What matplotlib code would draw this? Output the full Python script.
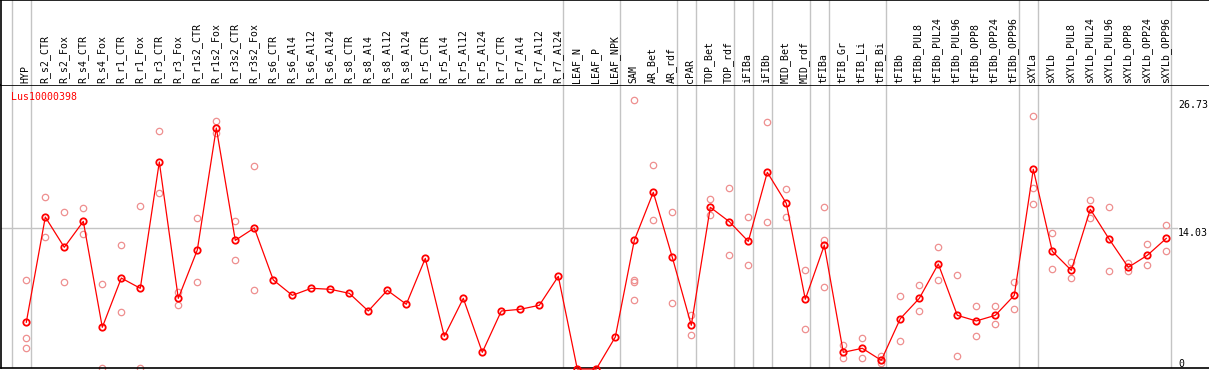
import matplotlib
matplotlib.use("Agg")
import matplotlib.pyplot as plt

categories = ["HYP", "R_s2_CTR", "R_s2_Fox", "R_s4_CTR", "R_s4_Fox", "R_r1_CTR", "R_r1_Fox",
              "R_r3_CTR", "R_r3_Fox", "R_r1s2_CTR", "R_r1s2_Fox", "R_r3s2_CTR", "R_r3s2_Fox",
              "R_s6_CTR", "R_s6_Al4", "R_s6_Al12", "R_s6_Al24", "R_s8_CTR", "R_s8_Al4",
              "R_s8_Al12", "R_s8_Al24", "R_r5_CTR", "R_r5_Al4", "R_r5_Al12", "R_r5_Al24",
              "R_r7_CTR", "R_r7_Al4", "R_r7_Al12", "R_r7_Al24", "LEAF_N", "LEAF_P", "LEAF_NPK",
              "SAM", "AR_Bet", "AR_rdf", "cPAR", "TOP_Bet", "TOP_rdf", "iFIBa", "iFIBb",
              "MID_Bet", "MID_rdf", "tFIBa", "tFIB_Gr", "tFIB_Li", "tFIB_Bi", "tFIBb",
              "tFIBb_PUL8", "tFIBb_PUL24", "tFIBb_PUL96", "tFIBb_OPP8", "tFIBb_OPP24",
              "tFIBb_OPP96", "sXYLa", "sXYLb", "sXYLb_PUL8", "sXYLb_PUL24", "sXYLb_PUL96",
              "sXYLb_OPP8", "sXYLb_OPP24", "sXYLb_OPP96"]

means = [4.65, 15.12, 12.11, 14.69, 4.15, 9.05, 8.03, 20.6, 7.03, 11.84, 23.98, 12.8, 14.03,
         8.86, 7.33, 8.03, 7.93, 7.53, 5.77, 7.83, 6.44, 11.01, 3.25, 7.03, 1.66,
         5.77, 5.94, 6.34, 9.22, 0.0, 0.0, 3.18,
         12.8, 17.58, 11.11, 4.35, 16.09, 14.66, 12.7, 19.57, 16.49, 6.94, 12.31,
         1.66, 2.06, 0.86, 5.01, 7.03, 10.45, 5.34, 4.78, 5.34, 7.33,
         19.87, 11.71, 9.82, 15.89, 12.9, 10.12, 11.31, 13.0]

replicates = [
    [8.82, 3.05, 2.06], [17.08, 13.1], [15.59, 8.63], [15.99, 13.4], [8.43, 0.07],
    [12.31, 5.64], [16.19, 0.07], [23.65, 17.48], [7.63, 6.34], [15.0, 8.63],
    [24.65, 23.45], [14.69, 10.82], [20.17, 7.83],
    [], [], [], [], [], [], [], [], [], [], [], [], [], [], [], [], [], [], [],
    [26.73, 8.82, 8.63, 6.84], [20.27, 14.79], [15.59, 6.54], [5.41, 3.35],
    [16.89, 15.29], [17.98, 11.31], [15.09, 10.32], [24.55, 14.6], [17.88, 15.09],
    [9.82, 3.95], [16.09, 12.8, 8.13], [2.36, 1.06], [3.05, 1.06], [1.26, 0.87, 0.57],
    [7.23, 2.76], [8.33, 5.74], [12.11, 8.82], [9.32, 1.26], [6.24, 3.25], [6.24, 4.45],
    [8.63, 5.94], [25.14, 17.98, 16.39], [13.5, 9.92], [10.62, 9.02], [16.79, 15.0],
    [16.09, 9.72], [10.52, 9.72], [12.41, 10.32], [14.3, 11.71]]

group_ends = [-1, 0, 28, 31, 34, 35, 37, 38, 39, 41, 42, 45, 52, 53, 60]
y_labels = [26.73, 14.03, 0]
gene = "Lus10000398"

W, H = 1209, 370
fig = plt.figure(figsize=(W / 100, H / 100), dpi=100)
mono = "DejaVu Sans Mono"
fs = 7.1

x0, dx = 26.3, 19.0
xlim = ((1 - x0) / dx, (W - x0) / dx)
pxy = 10.05
y_zero = 369
ylim = ((y_zero - 368) / pxy, (y_zero - 85) / pxy)

ax = fig.add_axes([1 / W, (H - 368) / H, (W - 1) / W, (368 - 85) / H])
hx = fig.add_axes([1 / W, (H - 85) / H, (W - 1) / W, 85 / H])

for a in (ax, hx):
    a.set_xlim(*xlim)
    a.set_xticks([])
    a.set_yticks([])
    for s in a.spines.values():
        s.set_color("black")
        s.set_linewidth(1.2)
    a.spines["right"].set_visible(False)
    for g in group_ends:
        a.axvline(g + 0.23, color="#c4c4c4", lw=1.0, zorder=0)

hx.set_ylim(0, 1)
hx.spines["bottom"].set_visible(False)
ax.set_ylim(*ylim)

xs = list(range(len(categories)))
for i, name in enumerate(categories):
    hx.text(i - 0.05, 2 / 85, name, rotation=90, ha="center", va="bottom",
            fontsize=fs, family=mono, color="black")

x_text = (1178 - 1) / (W - 1)
ax.axhline(14.03, xmin=0, xmax=x_text - 0.001, color="#c4c4c4", lw=1.0, zorder=0)

for yl in y_labels:
    txt = "0" if yl == 0 else f"{yl:.2f}"
    ax.text(x_text, yl, txt, transform=ax.get_yaxis_transform(),
            ha="left", va="bottom" if yl == 0 else "top",
            fontsize=fs, family=mono, color="black")

rx, ry = [], []
for i, reps in enumerate(replicates):
    for r in reps:
        rx.append(i)
        ry.append(r)
ax.plot(rx, ry, ls="none", marker="o", ms=4.6, mfc="none", mec="#ee8f8f",
        mew=0.9, clip_on=False, zorder=2)
ax.plot(xs, means, color="#ff0000", lw=0.9, marker="o", ms=4.6, mfc="none",
        mec="#ff0000", mew=1.3, clip_on=False, zorder=3)

ax.text(10 / (W - 1), (y_zero - 97) / pxy, gene, transform=ax.get_yaxis_transform(),
        ha="left", va="center", fontsize=fs, family=mono, color="#ff0000")

fig.savefig("out.png", dpi=100)
